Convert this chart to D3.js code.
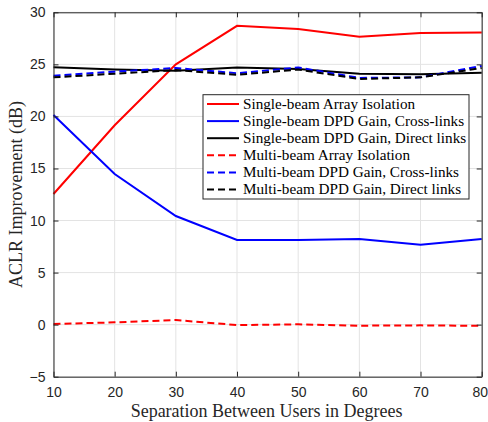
<!DOCTYPE html>
<html>
<head>
<meta charset="utf-8">
<script src="https://cdn.jsdelivr.net/npm/d3@7"></script>
<style>
body { margin: 0; background: #fff; }
.tick text { font-family: "Liberation Sans", Arial, sans-serif; font-size: 14px; fill: #262626; }
</style>
</head>
<body>
<script>
// separation between users (degrees)
var sep = [10, 20, 30, 40, 50, 60, 70, 80];

var sbIsolation = [12.55, 19.15, 25.0, 28.7, 28.4, 27.65, 28.0, 28.05];
var sbCross     = [20.13, 14.47, 10.43, 8.13, 8.13, 8.22, 7.68, 8.22];
var sbDirect    = [24.72, 24.5, 24.39, 24.7, 24.55, 24.1, 24.05, 24.2];
var mbIsolation = [0.06, 0.22, 0.44, -0.04, 0.03, -0.1, -0.07, -0.12];
var mbCross     = [23.9, 24.3, 24.65, 24.15, 24.7, 23.7, 23.75, 24.85];
var mbDirect    = [23.75, 24.1, 24.45, 24.0, 24.5, 23.6, 23.75, 24.65];

var seriesNames = [
  "Single-beam Array Isolation",
  "Single-beam DPD Gain, Cross-links",
  "Single-beam DPD Gain, Direct links",
  "Multi-beam Array Isolation",
  "Multi-beam DPD Gain, Cross-links",
  "Multi-beam DPD Gain, Direct links"
];
var xTicks = [10, 20, 30, 40, 50, 60, 70, 80];
var yTicks = [-5, 0, 5, 10, 15, 20, 25, 30];

var series = [
  {name: seriesNames[0], values: sbIsolation, color: "#ff0000", dash: null},
  {name: seriesNames[1], values: sbCross, color: "#0000ff", dash: null},
  {name: seriesNames[2], values: sbDirect, color: "#000000", dash: null},
  {name: seriesNames[3], values: mbIsolation, color: "#ff0000", dash: "7,4"},
  {name: seriesNames[4], values: mbCross, color: "#0000ff", dash: "7,4"},
  {name: seriesNames[5], values: mbDirect, color: "#000000", dash: "7,4"}
];

var w = 488, h = 422;
var margin = {top: 12.3, left: 53.5, right: 6.3, bottom: 45.3};
var iw = w - margin.left - margin.right, ih = h - margin.top - margin.bottom;

var svg = d3.select("body").append("svg").attr("width", w).attr("height", h);
var g = svg.append("g").attr("transform", "translate(" + margin.left + "," + margin.top + ")");

var x = d3.scaleLinear().domain([10, 80]).range([0, iw]);
var y = d3.scaleLinear().domain([-5, 30]).range([ih, 0]);

// grid
g.append("g").selectAll("line").data(xTicks).enter().append("line")
  .attr("x1", d => x(d)).attr("x2", d => x(d)).attr("y1", 0).attr("y2", ih)
  .attr("stroke", "#e3e3e3").attr("stroke-width", 1);
g.append("g").selectAll("line").data(yTicks).enter().append("line")
  .attr("y1", d => y(d)).attr("y2", d => y(d)).attr("x1", 0).attr("x2", iw)
  .attr("stroke", "#e3e3e3").attr("stroke-width", 1);

// lines
var line = d3.line().x((d, i) => x(sep[i])).y(d => y(d));
g.selectAll(".series").data(series).enter().append("path")
  .attr("class", "series")
  .attr("d", d => line(d.values))
  .attr("fill", "none")
  .attr("stroke", d => d.color)
  .attr("stroke-width", 2)
  .attr("stroke-dasharray", d => d.dash);

// axes (ticks inside, box on)
function styleAxis(sel) {
  sel.select(".domain").attr("stroke", "#262626").attr("stroke-width", 1);
  sel.selectAll(".tick line").attr("stroke", "#262626");
}
g.append("g").attr("transform", "translate(0," + ih + ")")
  .call(d3.axisBottom(x).tickValues(xTicks).tickSizeInner(-5).tickSizeOuter(0).tickPadding(10))
  .call(styleAxis)
  .selectAll(".tick text").filter(d => d === 80).attr("dx", -2);
g.append("g")
  .call(d3.axisLeft(y).tickValues(yTicks).tickSizeInner(-5).tickSizeOuter(0).tickPadding(8))
  .call(styleAxis);
g.append("g")
  .call(d3.axisTop(x).tickValues(xTicks).tickSizeInner(-5).tickSizeOuter(0).tickFormat(""))
  .call(styleAxis);
g.append("g").attr("transform", "translate(" + iw + ",0)")
  .call(d3.axisRight(y).tickValues(yTicks).tickSizeInner(-5).tickSizeOuter(0).tickFormat(""))
  .call(styleAxis);

// axis labels
svg.append("text")
  .attr("x", margin.left + iw / 2 - 1).attr("y", 416.5)
  .attr("text-anchor", "middle")
  .attr("font-family", "'Liberation Serif', 'Times New Roman', serif")
  .attr("font-size", 18).attr("fill", "#262626")
  .text("Separation Between Users in Degrees");
svg.append("text")
  .attr("transform", "translate(22," + (margin.top + ih / 2) + ") rotate(-90)")
  .attr("text-anchor", "middle")
  .attr("font-family", "'Liberation Serif', 'Times New Roman', serif")
  .attr("font-size", 18).attr("fill", "#262626")
  .text("ACLR Improvement (dB)");

// legend
var lg = svg.append("g");
lg.append("rect").attr("x", 203).attr("y", 94.7).attr("width", 266).attr("height", 104.3)
  .attr("fill", "#fff").attr("stroke", "#262626").attr("stroke-width", 1);
var rows = lg.selectAll(".row").data(series).enter().append("g")
  .attr("transform", (d, i) => "translate(0," + (104 + i * 17.1) + ")");
rows.append("line").attr("x1", 207).attr("x2", 239).attr("y1", 0).attr("y2", 0)
  .attr("stroke", d => d.color).attr("stroke-width", 2)
  .attr("stroke-dasharray", d => d.dash);
rows.append("text").attr("x", 243).attr("y", 4.5)
  .attr("font-family", "'Liberation Serif', 'Times New Roman', serif")
  .attr("font-size", 15.2).attr("fill", "#000")
  .text(d => d.name);
</script>
</body>
</html>
